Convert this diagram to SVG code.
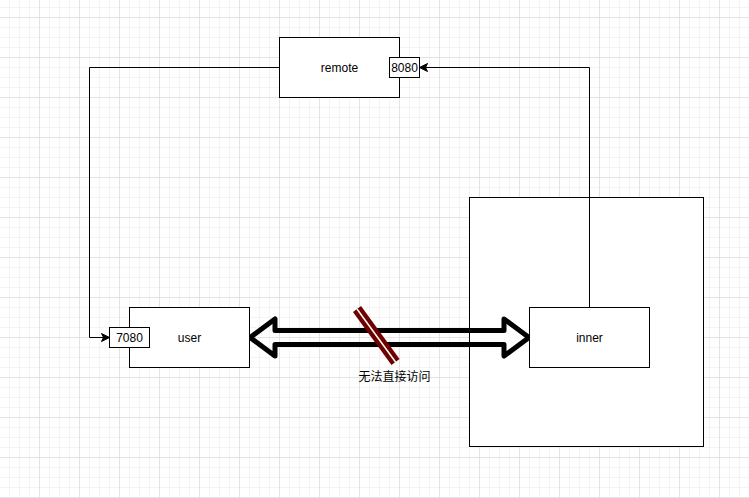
<svg xmlns="http://www.w3.org/2000/svg" width="749" height="498" viewBox="0 0 749 498">
<style>
.box{fill:#fff;stroke:#000;stroke-width:1}
.lbl{font-family:"Liberation Sans","Noto Sans CJK SC",sans-serif;font-size:12px;fill:#000;text-anchor:middle;dominant-baseline:central}
.edge{fill:none;stroke:#000;stroke-width:1}
</style>
<defs>
<pattern id="minor" patternUnits="userSpaceOnUse" x="9" y="7" width="10" height="10">
<path d="M0.5 0V10M0 0.5H10" fill="none" stroke="#f4f4f4" stroke-width="1"/>
</pattern>
<pattern id="major" patternUnits="userSpaceOnUse" x="39" y="17" width="40" height="40">
<path d="M0.5 0V40M0 0.5H40" fill="none" stroke="#e3e3e3" stroke-width="1"/>
</pattern>
<marker id="arr" markerUnits="userSpaceOnUse" markerWidth="10" markerHeight="10" refX="9" refY="5" orient="auto" viewBox="0 0 10 10">
<path d="M1,1 L9,5 L1,9 L3,5 Z" fill="#000" stroke="#000" stroke-width="1" stroke-linejoin="miter"/>
</marker>
</defs>
<rect width="749" height="498" fill="#fff"/>
<rect width="749" height="498" fill="url(#minor)"/>
<rect width="749" height="498" fill="url(#major)"/>

<g id="network">
<rect class="box" x="469.5" y="197.5" width="234" height="249"/>
</g>

<g id="connectors">
<path class="edge" d="M279.5 67.5H89.5V337.5H109.5" marker-end="url(#arr)"/>
<path class="edge" d="M589.5 307.5V67.5H419.5" marker-end="url(#arr)"/>
<path d="M250 337.5L275 319V330.5H504V319L529 337.5L504 356V344.5H275V356Z" fill="none" stroke="#000" stroke-width="5" stroke-linejoin="round"/>
<g id="blocked">
<line x1="357" y1="309" x2="395.5" y2="362" stroke="#6f0000" stroke-width="10"/>
<line x1="357" y1="309" x2="395.5" y2="362" stroke="#fff" stroke-width="1.5"/>
<text class="lbl" x="394.5" y="377">无法直接访问</text>
</g>
</g>

<g id="remote">
<rect class="box" x="279.5" y="37.5" width="120" height="60"/>
<text class="lbl" x="339.5" y="67.5">remote</text>
</g>
<g id="port8080">
<rect class="box" x="389.5" y="57.5" width="30" height="20"/>
<text class="lbl" x="404.5" y="67.5">8080</text>
</g>
<g id="user">
<rect class="box" x="129.5" y="307.5" width="120" height="60"/>
<text class="lbl" x="189.5" y="337.5">user</text>
</g>
<g id="port7080">
<rect class="box" x="109.5" y="327.5" width="40" height="20"/>
<text class="lbl" x="129.5" y="337.5">7080</text>
</g>
<g id="inner">
<rect class="box" x="529.5" y="307.5" width="120" height="60"/>
<text class="lbl" x="589.5" y="337.5">inner</text>
</g>
</svg>
